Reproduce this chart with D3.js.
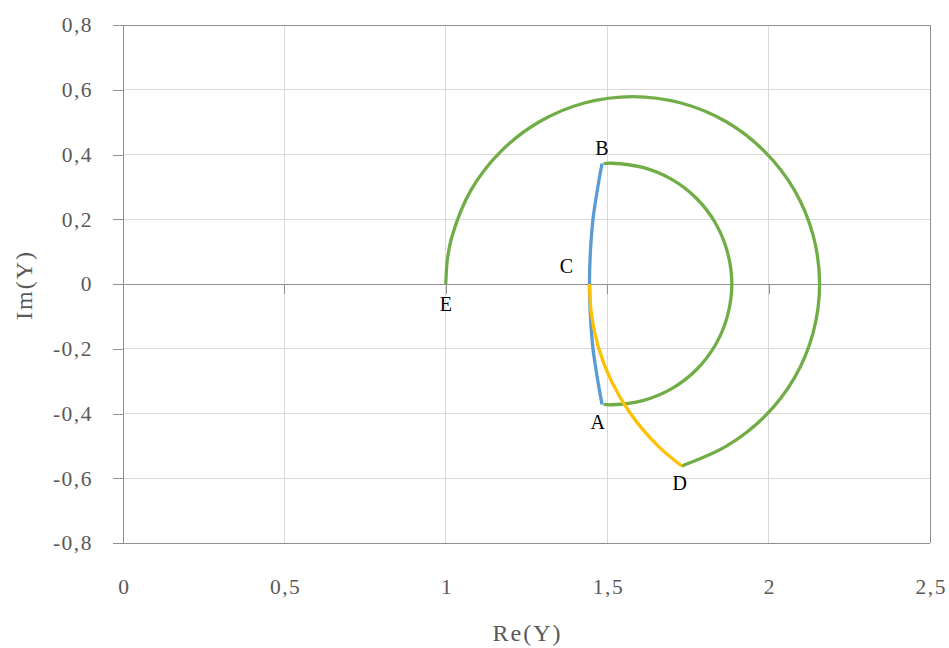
<!DOCTYPE html>
<html><head><meta charset="utf-8">
<script src="https://cdn.jsdelivr.net/npm/d3@7"></script>
<style>body{margin:0;background:#fff;} svg{display:block;}</style>
</head><body><svg id="chart" width="949" height="648"></svg>
<script>
// ---- data ----
const xTicks = [0, 0.5, 1, 1.5, 2, 2.5];
const yTicks = [-0.8, -0.6, -0.4, -0.2, 0, 0.2, 0.4, 0.6, 0.8];

// outer green arc E -> over the top -> D
const outerRe = [1.000, 1.005, 1.020, 1.078, 1.170, 1.290, 1.429, 1.579, 1.729, 1.869, 1.988, 2.080, 2.138, 2.158, 2.138, 2.080, 1.988, 1.869, 1.731];
const outerIm = [0.000, 0.076, 0.150, 0.290, 0.409, 0.501, 0.559, 0.579, 0.559, 0.501, 0.409, 0.290, 0.150, 0.000, -0.150, -0.290, -0.409, -0.501, -0.562];

// inner green arc B -> right -> A
const innerRe = [1.489, 1.513, 1.610, 1.700, 1.777, 1.836, 1.873, 1.886, 1.873, 1.836, 1.777, 1.700, 1.610, 1.513, 1.489];
const innerIm = [0.372, 0.373, 0.360, 0.323, 0.264, 0.187, 0.097, 0.000, -0.097, -0.187, -0.264, -0.323, -0.360, -0.373, -0.372];

// blue arc B -> C -> A
const blueRe = [1.484, 1.471, 1.456, 1.448, 1.445, 1.448, 1.456, 1.471, 1.484];
const blueIm = [0.372, 0.300, 0.200, 0.100, 0.000, -0.100, -0.200, -0.300, -0.372];

// yellow arc C -> D
const yellowRe = [1.445, 1.452, 1.474, 1.513, 1.572, 1.657, 1.731];
const yellowIm = [0.000, -0.100, -0.200, -0.300, -0.400, -0.500, -0.562];

// point labels
const pointNames = ["A", "B", "C", "D", "E"];
const pointRe = [1.486, 1.484, 1.445, 1.731, 1.000];
const pointIm = [-0.373, 0.372, 0.000, -0.562, 0.000];

const xTitle = "Re(Y)";
const yTitle = "Im(Y)";

// ---- drawing ----
const W = 949, H = 648;
const m = {left: 123, right: 19, top: 25, bottom: 105};
const svg = d3.select("#chart");
const x = d3.scaleLinear().domain([0, 2.5]).range([m.left, W - m.right]);
const y = d3.scaleLinear().domain([-0.8, 0.8]).range([H - m.bottom, m.top]);

const loc = d3.formatLocale({decimal: ",", thousands: ".", grouping: [3], currency: ["", ""], minus: "-"});
const fmt = loc.format("~g");

const FONT = "'Liberation Serif', 'DejaVu Serif', serif";
const GRID = "#d9d9d9", AXIS = "#8f8f8f", TXT = "#595959";

// gridlines
svg.append("g").selectAll("line").data(yTicks.filter(v => v !== 0 && Math.abs(v) !== 0.8)).join("line")
  .attr("x1", x(0)).attr("x2", x(2.5)).attr("y1", d => y(d)).attr("y2", d => y(d))
  .attr("stroke", GRID).attr("stroke-width", 1).attr("shape-rendering", "crispEdges");
svg.append("g").selectAll("line").data(xTicks.filter(v => v !== 0 && v !== 2.5)).join("line")
  .attr("y1", y(0.8)).attr("y2", y(-0.8)).attr("x1", d => x(d)).attr("x2", d => x(d))
  .attr("stroke", GRID).attr("stroke-width", 1).attr("shape-rendering", "crispEdges");

// border (top, right, bottom)
const border = svg.append("g").attr("stroke", AXIS).attr("stroke-width", 1).attr("shape-rendering", "crispEdges");
border.append("line").attr("x1", x(0)).attr("x2", x(2.5)).attr("y1", y(0.8)).attr("y2", y(0.8));
border.append("line").attr("x1", x(0)).attr("x2", x(2.5)).attr("y1", y(-0.8)).attr("y2", y(-0.8));
border.append("line").attr("x1", x(2.5)).attr("x2", x(2.5)).attr("y1", y(0.8)).attr("y2", y(-0.8));

// left axis (at x = 0)
const yAxis = svg.append("g").attr("transform", `translate(${x(0)},0)`)
  .call(d3.axisLeft(y).tickValues(yTicks).tickSize(10).tickPadding(20).tickFormat(fmt).tickSizeOuter(0));
yAxis.selectAll("path, line").attr("stroke", AXIS).attr("shape-rendering", "crispEdges");
yAxis.selectAll("text").attr("fill", TXT).style("font-family", FONT).style("font-size", "21.5px")
  .style("letter-spacing", "1.5px");

// zero axis (at y = 0) with ticks, no labels
const x0Axis = svg.append("g").attr("transform", `translate(0,${y(0)})`)
  .call(d3.axisBottom(x).tickValues(xTicks).tickSize(10).tickFormat("").tickSizeOuter(0));
x0Axis.selectAll("path, line").attr("stroke", AXIS).attr("shape-rendering", "crispEdges");

// bottom labels
const xLab = svg.append("g").attr("transform", `translate(0,${y(-0.8)})`)
  .call(d3.axisBottom(x).tickValues(xTicks).tickSize(0).tickPadding(36).tickFormat(fmt));
xLab.select(".domain").remove();
xLab.selectAll("text").attr("fill", TXT).attr("dx", "0.75px").style("font-family", FONT).style("font-size", "21.5px")
  .style("letter-spacing", "1.5px");

// titles
svg.append("text").attr("x", (x(0) + x(2.5)) / 2 + 1).attr("y", 641)
  .attr("text-anchor", "middle").attr("fill", TXT)
  .style("font-family", FONT).style("font-size", "24px").style("letter-spacing", "2px").text(xTitle);
svg.append("text").attr("transform", `translate(32,${y(0) + 1}) rotate(-90)`)
  .attr("text-anchor", "middle").attr("fill", TXT)
  .style("font-family", FONT).style("font-size", "24px").style("letter-spacing", "2px").text(yTitle);

// curves
const line = d3.line().x(d => x(d[0])).y(d => y(d[1])).curve(d3.curveCatmullRom.alpha(0.5));
const series = [
  {re: outerRe, im: outerIm, color: "#70AD47"},
  {re: innerRe, im: innerIm, color: "#70AD47"},
  {re: blueRe, im: blueIm, color: "#5B9BD5"},
  {re: yellowRe, im: yellowIm, color: "#FFC000"}
];
svg.append("g").selectAll("path").data(series).join("path")
  .attr("d", s => line(s.re.map((v, i) => [v, s.im[i]])))
  .attr("fill", "none").attr("stroke", s => s.color).attr("stroke-width", 3.3)
  .attr("stroke-linejoin", "round");

// point labels
const offs = {A: [-5, 17], B: [0, -16], C: [-23, -18], D: [-2, 17], E: [0, 20]};
svg.append("g").selectAll("text").data(pointNames).join("text")
  .attr("x", (d, i) => x(pointRe[i]) + offs[d][0])
  .attr("y", (d, i) => y(pointIm[i]) + offs[d][1])
  .attr("text-anchor", "middle").attr("dominant-baseline", "central")
  .attr("fill", "#000").style("font-family", FONT).style("font-size", "20px")
  .text(d => d);
</script></body></html>
